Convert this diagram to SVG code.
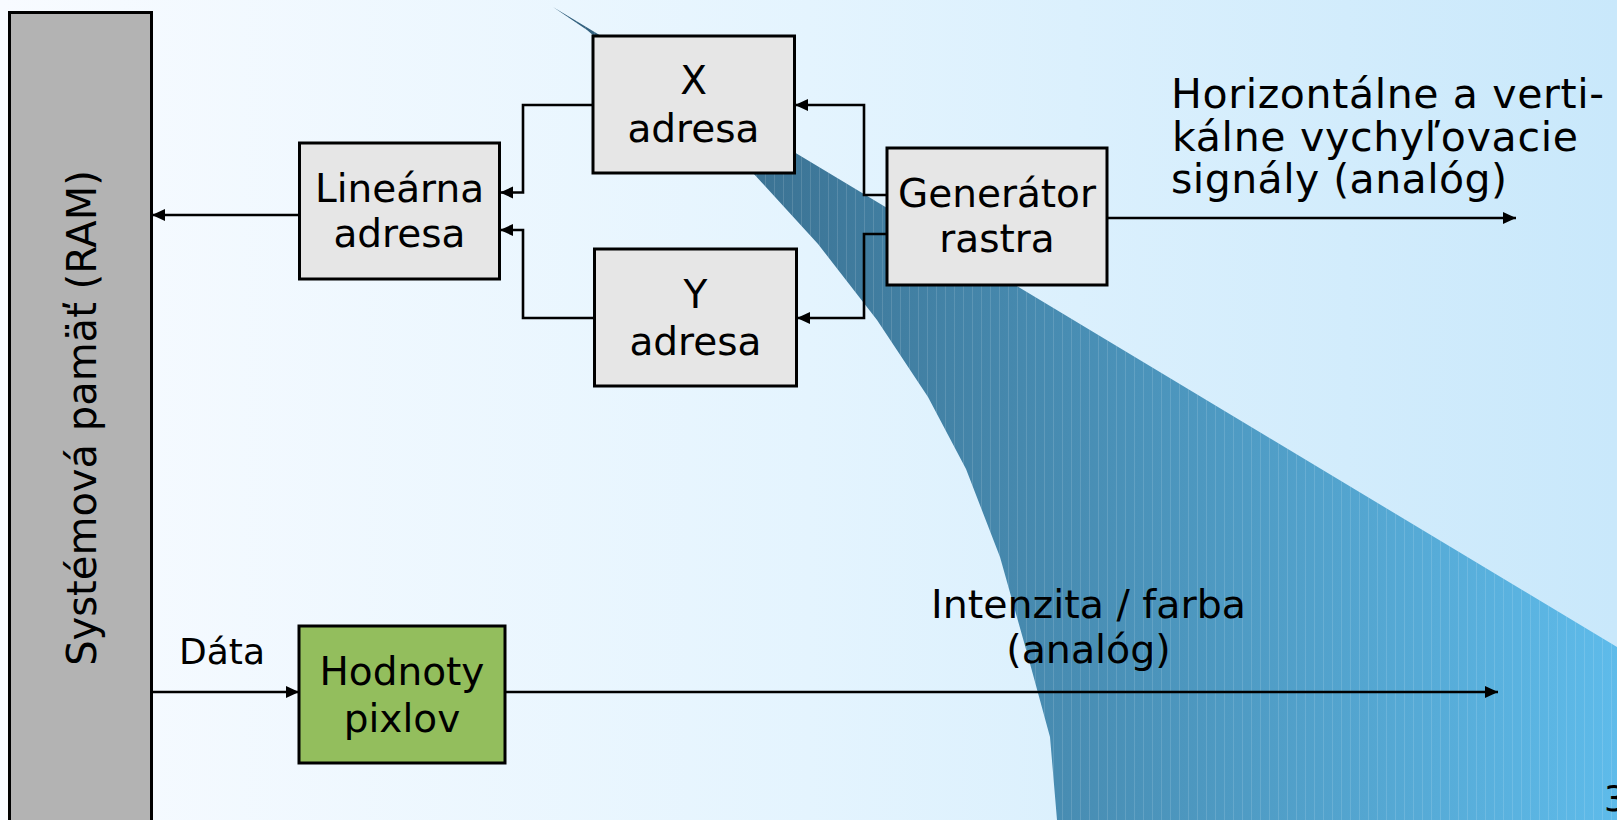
<svg xmlns="http://www.w3.org/2000/svg" width="1617" height="820" viewBox="0 0 1617 820">
  <defs>
    <linearGradient id="bg" x1="0" y1="0" x2="1617" y2="0" gradientUnits="userSpaceOnUse">
      <stop offset="0" stop-color="#f8fbff"/>
      <stop offset="0.5" stop-color="#e4f4fe"/>
      <stop offset="1" stop-color="#c9e8fb"/>
    </linearGradient>
    <linearGradient id="swoosh" x1="560" y1="0" x2="1617" y2="0" gradientUnits="userSpaceOnUse">
      <stop offset="0" stop-color="#33607d"/>
      <stop offset="0.2" stop-color="#3c7495"/>
      <stop offset="1" stop-color="#5ebbea"/>
    </linearGradient>
    <!-- faint vertical banding across the swoosh -->
    <pattern id="bands" x="0" y="0" width="9" height="20" patternUnits="userSpaceOnUse">
      <rect x="0" y="0" width="1" height="20" fill="#ffffff" fill-opacity="0.13"/>
    </pattern>
    <clipPath id="swooshClip">
      <path id="swooshShape" d="M553,7 L1617,647 L1617,820 L1057,820 L1050,737 L1029,660 L1000,557 L966,469 L928,397 L877,320 L818,244 L753,173 L587,30 Z"/>
    </clipPath>
    <marker id="arrow" markerUnits="userSpaceOnUse" markerWidth="14" markerHeight="13" refX="13" refY="6" orient="auto">
      <path d="M0,0 L13,6 L0,12 Z" fill="#000"/>
    </marker>
    <style>
      .box { stroke: #000; stroke-width: 3; }
      .plain { fill: #e6e6e6; }
      .label { font-family: "DejaVu Sans", "Liberation Sans", sans-serif; fill: #000; }
      .node { font-size: 39px; text-anchor: middle; }
      .wire { fill: none; stroke: #000; stroke-width: 2.6; marker-end: url(#arrow); }
    </style>
  </defs>

  <!-- backdrop -->
  <rect x="0" y="0" width="1617" height="820" fill="url(#bg)"/>
  <g clip-path="url(#swooshClip)">
    <rect x="540" y="0" width="1077" height="820" fill="url(#swoosh)"/>
    <rect x="540" y="0" width="1077" height="820" fill="url(#bands)"/>
  </g>

  <!-- system memory -->
  <g id="ram">
    <rect class="box" x="9.5" y="12.5" width="142" height="830" fill="#b3b3b3"/>
    <text class="label" font-size="40" text-anchor="middle" transform="translate(96,418) rotate(-90)">Systémová pamäť (RAM)</text>
  </g>

  <g id="linear-address">
    <rect class="box plain" x="299.5" y="143" width="200" height="136"/>
    <text class="label node" x="399.5" y="201.7">Lineárna</text>
    <text class="label node" x="399.5" y="246.7">adresa</text>
  </g>

  <g id="x-address">
    <rect class="box plain" x="593" y="36" width="201.5" height="137"/>
    <text class="label node" x="693.5" y="94.3">X</text>
    <text class="label node" x="693.5" y="141.7">adresa</text>
  </g>

  <g id="y-address">
    <rect class="box plain" x="594.5" y="249" width="202" height="137"/>
    <text class="label node" x="695.5" y="308.3">Y</text>
    <text class="label node" x="695.5" y="355">adresa</text>
  </g>

  <g id="raster-generator">
    <rect class="box plain" x="887" y="148" width="220" height="137"/>
    <text class="label node" x="997" y="206.7">Generátor</text>
    <text class="label node" x="997" y="252.3">rastra</text>
  </g>

  <g id="pixel-values">
    <rect class="box" x="299" y="626" width="206" height="137" fill="#93be5d"/>
    <text class="label node" x="402" y="685">Hodnoty</text>
    <text class="label node" x="402" y="731.7">pixlov</text>
  </g>

  <!-- connectors -->
  <g id="connectors">
    <path class="wire" d="M299,215 L152,215"/>
    <path class="wire" d="M593,105 L523,105 L523,192.5 L500,192.5"/>
    <path class="wire" d="M594,318 L523,318 L523,230 L500,230"/>
    <path class="wire" d="M887,195 L864,195 L864,105 L795,105"/>
    <path class="wire" d="M887,234 L864,234 L864,318 L797,318"/>
    <path class="wire" d="M1107,218 L1516,218"/>
    <path class="wire" d="M152,692 L299,692"/>
    <path class="wire" d="M505,692 L1498,692"/>
  </g>

  <!-- signal labels -->
  <g id="labels" class="label">
    <text x="179" y="664.3" font-size="36">Dáta</text>
    <text x="1171" y="108.3" font-size="41" textLength="433" lengthAdjust="spacing">Horizontálne a verti-</text>
    <text x="1172" y="151" font-size="41" textLength="406" lengthAdjust="spacing">kálne vychyľovacie</text>
    <text x="1171" y="192.7" font-size="41" textLength="336" lengthAdjust="spacing">signály (analóg)</text>
    <text x="1088.5" y="618.3" font-size="39.5" text-anchor="middle">Intenzita / farba</text>
    <text x="1088.5" y="663.3" font-size="39.5" text-anchor="middle">(analóg)</text>
    <text x="1604" y="810.7" font-size="35">3</text>
  </g>
</svg>
